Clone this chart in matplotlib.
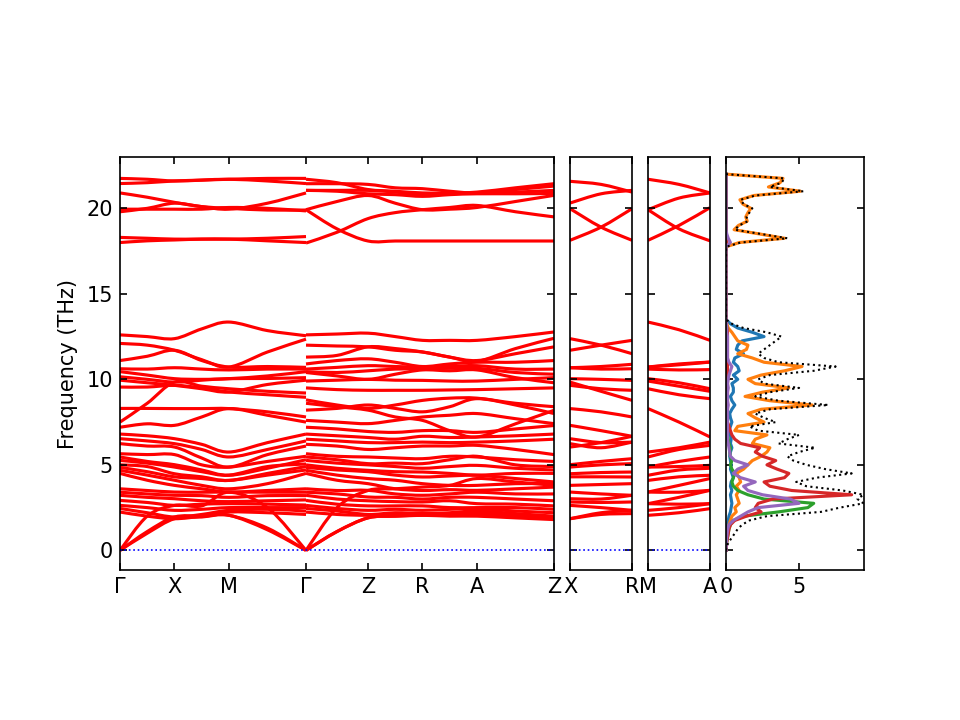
import numpy as np
import matplotlib
matplotlib.use('Agg')
import matplotlib.pyplot as plt
from matplotlib.path import Path
from matplotlib.patches import PathPatch

# k positions of the sampled points (Gamma-X = 1)
k_path1 = [0, 0.5, 1.0, 1.5, 2.0, 2.707, 3.414]                      # G X M G
k_path2 = [3.414, 3.983, 4.552, 5.052, 5.552, 6.052, 6.552, 7.259, 7.966]  # G Z R A Z
k_short = [0, 0.569, 1.138]                                          # X-R, M-A

ticks_main = [0, 1.0, 2.0, 3.414, 4.552, 5.552, 6.552, 7.966]
labels_main = ['Γ', 'X', 'M', 'Γ', 'Z', 'R', 'A', 'Z']

# bands (THz)
bands_path1 = [
    [21.75, 21.7, 21.6, 21.65, 21.7, 21.75, 21.75],
    [21.45, 21.5, 21.6, 21.65, 21.7, 21.6, 21.45],
    [20.9, 20.65, 20.35, 20.1, 19.95, 20.3, 20.9],
    [19.8, 20.0, 20.3, 20.1, 20.0, 19.9, 19.9],
    [19.95, 19.95, 19.95, 19.95, 20.05, 20.0, 19.85],
    [18.3, 18.25, 18.2, 18.2, 18.2, 18.25, 18.35],
    [18.0, 18.1, 18.15, 18.2, 18.2, 18.1, 18.0],
    [12.6, 12.5, 12.38, 12.95, 13.35, 12.85, 12.55],
    [12.1, 12.0, 11.7, 11.15, 10.72, 11.6, 12.35],
    [11.1, 11.35, 11.7, 11.1, 10.72, 10.75, 10.7],
    [10.62, 10.6, 10.68, 10.6, 10.55, 10.6, 10.6],
    [10.45, 10.25, 10.04, 10.0, 10.04, 10.2, 10.45],
    [10.15, 10.0, 9.84, 9.95, 10.04, 10.05, 10.1],
    [9.95, 9.8, 9.65, 9.45, 9.26, 9.7, 9.95],
    [9.55, 9.55, 9.65, 9.5, 9.26, 9.1, 8.95],
    [7.5, 8.6, 9.84, 9.6, 9.45, 9.3, 9.2],
    [8.3, 8.3, 8.29, 8.29, 8.29, 8.1, 7.8],
    [7.2, 7.4, 7.31, 7.8, 8.29, 7.9, 7.5],
    [6.8, 6.7, 6.53, 6.2, 5.75, 6.3, 6.8],
    [6.53, 6.4, 6.24, 5.9, 5.46, 5.9, 6.4],
    [6.24, 6.1, 6.04, 5.4, 4.87, 5.6, 6.1],
    [5.65, 5.6, 5.6, 5.0, 4.87, 5.2, 5.5],
    [5.46, 5.2, 5.01, 4.7, 4.39, 4.8, 5.3],
    [5.26, 5.1, 4.87, 4.6, 4.4, 4.9, 5.05],
    [5.0, 4.9, 4.48, 4.3, 4.09, 4.5, 4.9],
    [4.85, 4.6, 4.3, 4.2, 4.09, 4.4, 4.7],
    [4.68, 4.4, 4.1, 3.8, 3.6, 3.9, 4.5],
    [4.5, 4.1, 3.8, 3.6, 3.41, 3.5, 3.6],
    [3.6, 3.5, 3.41, 3.4, 3.41, 3.4, 3.4],
    [3.4, 3.3, 3.22, 3.2, 3.1, 3.2, 3.2],
    [3.22, 3.1, 3.02, 2.9, 2.85, 2.9, 2.95],
    [2.92, 2.8, 2.63, 2.7, 2.73, 2.7, 2.65],
    [2.63, 2.5, 2.34, 2.4, 2.5, 2.5, 2.5],
    [2.45, 2.2, 1.95, 2.1, 2.34, 2.4, 2.3],
    [2.24, 2.0, 1.85, 2.0, 2.24, 2.2, 2.1],
    [0.0, 1.0, 1.85, 1.95, 2.05, 1.2, 0.0],
    [0.0, 1.1, 1.95, 2.0, 2.05, 1.3, 0.0],
    [0.0, 2.0, 2.63, 2.6, 3.4, 2.5, 0.0],
]

bands_path2 = [
    [21.7, 21.5, 21.1, 21.0, 20.9, 20.9, 20.95, 21.2, 21.44],
    [21.44, 21.44, 21.4, 21.2, 21.15, 21.0, 20.9, 21.1, 21.3],
    [21.05, 21.05, 21.05, 20.95, 20.8, 20.85, 20.9, 20.95, 21.05],
    [21.05, 21.0, 20.85, 20.8, 20.7, 20.8, 20.85, 20.85, 20.87],
    [19.92, 20.4, 20.75, 20.3, 19.92, 19.95, 20.05, 20.4, 20.76],
    [17.97, 18.6, 19.4, 19.75, 19.92, 20.05, 20.17, 19.8, 19.5],
    [19.92, 18.8, 18.09, 18.09, 18.09, 18.09, 18.09, 18.09, 18.09],
    [12.6, 12.65, 12.7, 12.5, 12.28, 12.28, 12.28, 12.5, 12.77],
    [12.0, 11.95, 11.9, 11.7, 11.6, 11.3, 11.1, 11.5, 11.9],
    [11.3, 11.4, 11.9, 11.8, 11.6, 11.3, 11.05, 11.8, 12.4],
    [10.9, 11.1, 11.2, 11.0, 10.75, 10.9, 11.0, 11.0, 11.1],
    [10.6, 10.7, 10.8, 10.75, 10.72, 10.75, 10.8, 10.6, 10.6],
    [10.45, 10.4, 10.5, 10.6, 10.62, 10.65, 10.65, 10.4, 10.3],
    [10.4, 10.2, 10.0, 10.3, 10.55, 10.5, 10.55, 10.1, 9.8],
    [9.9, 9.95, 10.0, 9.95, 9.94, 9.9, 9.9, 10.0, 10.1],
    [9.5, 9.4, 9.36, 9.36, 9.36, 9.38, 9.4, 9.45, 9.5],
    [8.8, 8.5, 8.3, 8.5, 8.77, 8.9, 8.9, 8.6, 8.4],
    [8.6, 8.4, 8.2, 7.8, 7.6, 7.0, 6.63, 7.4, 8.19],
    [8.2, 8.3, 8.5, 8.3, 8.1, 8.4, 8.87, 8.5, 8.0],
    [7.6, 7.5, 7.41, 7.6, 7.8, 7.9, 8.0, 7.7, 7.41],
    [7.2, 7.1, 6.95, 6.9, 7.0, 7.0, 6.9, 7.1, 7.3],
    [6.8, 6.7, 6.6, 6.5, 6.67, 6.6, 6.63, 6.7, 6.8],
    [6.5, 6.4, 6.3, 6.3, 6.33, 6.3, 6.33, 6.4, 6.5],
    [6.2, 6.1, 5.9, 6.0, 6.1, 6.1, 6.14, 5.9, 5.6],
    [5.65, 5.5, 5.46, 5.4, 5.36, 5.5, 5.46, 5.3, 5.2],
    [5.46, 5.3, 5.07, 5.1, 5.07, 5.3, 5.5, 5.0, 4.9],
    [5.26, 5.1, 5.0, 4.9, 4.8, 4.9, 4.97, 4.8, 4.7],
    [5.0, 4.8, 4.68, 4.6, 4.58, 4.5, 4.4, 4.5, 4.5],
    [4.85, 4.7, 4.6, 4.4, 4.29, 4.35, 4.39, 4.2, 4.0],
    [4.68, 4.4, 4.2, 4.1, 3.9, 3.8, 3.8, 3.9, 3.9],
    [4.5, 4.1, 3.9, 3.6, 3.5, 3.55, 3.51, 3.6, 3.7],
    [3.6, 3.5, 3.51, 3.3, 3.22, 3.3, 3.4, 3.3, 3.3],
    [3.4, 3.3, 3.12, 3.1, 3.0, 3.1, 3.1, 3.0, 2.9],
    [3.22, 3.0, 2.9, 2.85, 2.83, 2.9, 2.73, 2.7, 2.6],
    [2.92, 2.7, 2.6, 2.6, 2.6, 2.5, 2.5, 2.5, 2.4],
    [2.63, 2.45, 2.34, 2.4, 2.34, 2.4, 2.44, 2.3, 2.2],
    [2.45, 2.3, 2.1, 2.2, 2.15, 2.2, 2.3, 2.15, 2.0],
    [2.24, 2.1, 2.05, 2.1, 2.15, 2.15, 2.2, 2.05, 1.9],
    [0.0, 1.1, 1.9, 2.0, 2.05, 2.1, 2.1, 2.0, 1.85],
    [0.0, 1.1, 1.9, 2.0, 2.05, 2.0, 2.0, 1.9, 1.8],
    [0.0, 2.5, 3.5, 3.6, 3.7, 3.8, 4.2, 4.0, 3.8],
]

bands_xr = [
    [21.58, 21.4, 20.95], [20.31, 20.85, 21.05], [19.98, 18.9, 18.13], [18.13, 18.9, 19.98],
    [12.38, 12.0, 11.5], [11.7, 12.0, 12.28], [10.68, 10.75, 10.88], [10.68, 10.6, 10.62],
    [10.04, 10.0, 9.94], [9.84, 9.3, 8.77], [9.65, 9.45, 9.36], [8.29, 8.1, 7.8],
    [7.31, 7.0, 6.67], [6.53, 6.3, 6.33], [6.24, 6.0, 6.33], [6.04, 6.3, 6.67],
    [5.01, 5.2, 5.36], [4.87, 5.0, 5.07], [4.48, 4.55, 4.58], [4.3, 4.3, 4.29],
    [3.8, 3.85, 3.9], [3.41, 3.3, 3.22], [3.02, 3.0, 3.22], [2.83, 2.8, 2.83],
    [2.63, 2.5, 2.34], [1.85, 2.1, 2.15], [1.85, 2.2, 2.34],
]

bands_ma = [
    [21.7, 21.4, 20.9], [19.92, 20.6, 20.9], [19.92, 18.8, 18.1], [18.13, 19.0, 20.04],
    [13.35, 12.9, 12.28], [10.72, 10.9, 11.01], [10.72, 10.85, 11.01], [10.6, 10.55, 10.57],
    [10.04, 9.8, 9.45], [9.9, 9.6, 9.3], [9.45, 9.1, 8.87], [8.29, 7.5, 6.63],
    [5.75, 6.0, 6.33], [5.46, 5.9, 6.14], [4.87, 5.2, 5.46], [4.87, 4.9, 4.97],
    [4.39, 4.7, 4.8], [4.09, 4.3, 4.39], [3.41, 3.8, 4.2], [3.41, 3.4, 3.51],
    [2.73, 3.1, 3.51], [2.73, 2.7, 2.73], [2.34, 2.5, 2.73], [2.05, 2.2, 2.44],
]

# DOS, sampled every 0.25 THz in the two occupied windows
dos_freq = np.concatenate([np.arange(0, 13.51, 0.25), np.arange(17.75, 22.01, 0.25)])

dos_total = [0, 0.05, 0.2, 0.4, 0.6, 0.8, 1.1, 1.6, 2.8, 6.5, 7.8, 9.4, 9.0, 9.4, 8.0, 5.5,
             4.8, 6.2, 8.6, 6.8, 5.5, 4.6, 4.2, 5.0, 6.1, 3.6, 4.2, 5.0, 2.2, 1.6, 3.4, 2.6,
             2.0, 3.0, 7.0, 3.6, 2.0, 3.0, 5.0, 2.6, 2.2, 3.0, 6.0, 7.5, 3.6, 2.6, 2.2, 2.6,
             3.0, 3.4, 3.8, 2.8, 1.2, 0.4, 0,
             0, 1.0, 4.2, 2.4, 0.6, 0.9, 1.5, 1.4, 1.6, 1.8, 1.2, 1.0, 2.0, 5.3, 3.0, 3.8, 4.0, 0]
dos_blue = [0, 0.01, 0.02, 0.04, 0.06, 0.08, 0.1, 0.15, 0.2, 0.3, 0.35, 0.4, 0.35, 0.3, 0.4, 0.3,
            0.35, 0.5, 0.4, 0.3, 0.35, 0.3, 0.25, 0.3, 0.4, 0.3, 0.35, 0.3, 0.2, 0.3, 0.4, 0.3,
            0.25, 0.4, 0.6, 0.4, 0.3, 0.5, 0.5, 0.4, 0.8, 0.5, 0.9, 0.8, 0.5, 0.6, 1.2, 0.7,
            0.8, 1.1, 2.6, 1.8, 0.8, 0.3, 0,
            0, 0.05, 0.05, 0.02, 0, 0, 0, 0, 0, 0, 0, 0, 0, 0, 0, 0, 0, 0]
dos_orange = [0, 0.01, 0.03, 0.06, 0.1, 0.15, 0.2, 0.3, 0.4, 0.7, 0.6, 0.9, 0.8, 0.7, 0.9, 0.7,
              1.0, 0.9, 0.7, 1.2, 1.5, 1.8, 2.4, 2.8, 3.0, 1.8, 2.0, 2.8, 0.6, 0.8, 2.6, 2.0,
              1.5, 2.4, 5.9, 3.0, 1.3, 2.5, 4.3, 2.0, 1.5, 2.4, 4.0, 5.2, 2.6, 1.8, 0.8, 1.4,
              1.5, 0.8, 0.6, 0.4, 0.15, 0.05, 0,
              0, 0.9, 4.0, 2.3, 0.55, 0.85, 1.45, 1.35, 1.5, 1.7, 1.15, 0.95, 1.9, 5.1, 2.9, 3.7, 3.9, 0]
dos_green = [0, 0.02, 0.05, 0.1, 0.15, 0.2, 0.3, 0.5, 1.2, 3.6, 5.6, 6.0, 2.6, 1.5, 0.8, 0.5,
             0.4, 0.5, 0.6, 0.4, 0.3, 0.4, 0.3, 0.25, 0.3, 0.2, 0.15, 0.1, 0.05, 0.05, 0.05, 0.05,
             0.05, 0.05, 0.05, 0.05, 0.05, 0.05, 0.05, 0.05, 0.05, 0.05, 0.05, 0.05, 0.05, 0.05, 0.05, 0.05,
             0.05, 0.05, 0.05, 0.05, 0.05, 0.02, 0,
             0, 0.02, 0.02, 0.02, 0, 0, 0, 0, 0, 0, 0, 0, 0, 0, 0, 0, 0, 0]
dos_red = [0, 0.02, 0.05, 0.1, 0.15, 0.2, 0.3, 0.6, 1.4, 2.4, 2.0, 2.2, 3.2, 8.6, 4.5, 3.0,
           2.6, 4.0, 4.3, 3.5, 2.8, 3.4, 2.5, 2.0, 2.3, 1.0, 0.6, 0.4, 0.3, 0.2, 0.1, 0.1,
           0.1, 0.1, 0.1, 0.1, 0.1, 0.1, 0.1, 0.1, 0.1, 0.1, 0.1, 0.1, 0.1, 0.1, 0.1, 0.1,
           0.1, 0.1, 0.1, 0.1, 0.05, 0.02, 0,
           0, 0.02, 0.02, 0.02, 0, 0, 0, 0, 0, 0, 0, 0, 0, 0, 0, 0, 0, 0]
dos_purple = [0, 0.01, 0.03, 0.05, 0.08, 0.12, 0.2, 0.5, 1.0, 1.5, 2.2, 5.0, 4.4, 2.5, 1.5, 1.2,
              2.0, 1.0, 0.5, 0.8, 1.5, 0.6, 0.3, 0.25, 0.2, 0.15, 0.1, 0.1, 0.1, 0.1, 0.1, 0.1,
              0.1, 0.1, 0.15, 0.1, 0.1, 0.1, 0.15, 0.1, 0.15, 0.2, 0.3, 0.4, 0.2, 0.1, 0.1, 0.1,
              0.1, 0.1, 0.1, 0.05, 0.05, 0.02, 0,
              0, 0.3, 0.15, 0.05, 0, 0, 0, 0, 0, 0, 0, 0, 0, 0, 0, 0, 0, 0]


def smooth(xs, ys):
    # Catmull-Rom curve through the read points, drawn as cubic beziers
    pts = np.column_stack([xs, ys]).astype(float)
    n = len(pts)
    verts = [pts[0]]
    codes = [Path.MOVETO]
    for i in range(n - 1):
        p0 = pts[i - 1] if i > 0 else pts[i]
        p1, p2 = pts[i], pts[i + 1]
        p3 = pts[i + 2] if i + 2 < n else pts[i + 1]
        verts += [p1 + (p2 - p0) / 6, p2 - (p3 - p1) / 6, p2]
        codes += [Path.CURVE4] * 3
    return Path(verts, codes)


def draw_bands(ax, ks, bands):
    for b in bands:
        ax.add_patch(PathPatch(smooth(ks, b), fill=False, edgecolor='red', lw=1.5))


ylim = (-1.15, 23.0)
yticks = [0, 5, 10, 15, 20]

fig = plt.figure(figsize=(6.4, 4.8), dpi=150)
ax1 = fig.add_axes([0.125, 0.2083, 0.4521, 0.5736])
ax2 = fig.add_axes([0.5938, 0.2083, 0.0646, 0.5736])
ax3 = fig.add_axes([0.675, 0.2083, 0.0646, 0.5736])
ax4 = fig.add_axes([0.7563, 0.2083, 0.1438, 0.5736])

draw_bands(ax1, k_path1, bands_path1)
draw_bands(ax1, k_path2, bands_path2)
draw_bands(ax2, k_short, bands_xr)
draw_bands(ax3, k_short, bands_ma)

ax1.set_xlim(0, 7.966)
ax1.set_xticks(ticks_main)
ax1.set_xticklabels(labels_main)
ax1.set_ylabel('Frequency (THz)')

for ax, labs in [(ax2, ['X', 'R']), (ax3, ['M', 'A'])]:
    ax.set_xlim(0, 1.138)
    ax.set_xticks([0, 1.138])
    ax.set_xticklabels(labs)

for ax in [ax1, ax2, ax3]:
    ax.axhline(0, color='blue', ls=':', lw=0.8)

for ax in [ax1, ax2, ax3, ax4]:
    ax.set_ylim(*ylim)
    ax.set_yticks(yticks)
    ax.tick_params(direction='in', top=True, right=True)
for ax in [ax2, ax3, ax4]:
    ax.tick_params(labelleft=False)

for vals, col in [(dos_blue, 'tab:blue'), (dos_orange, 'tab:orange'), (dos_green, 'tab:green'),
                  (dos_red, 'tab:red'), (dos_purple, 'tab:purple')]:
    ax4.plot(vals, dos_freq, color=col, lw=1.5)
ax4.plot(dos_total, dos_freq, color='black', ls=':', lw=1.0)
ax4.set_xlim(0, 9.45)
ax4.set_xticks([0, 5])

fig.savefig('out.png', dpi=150)
